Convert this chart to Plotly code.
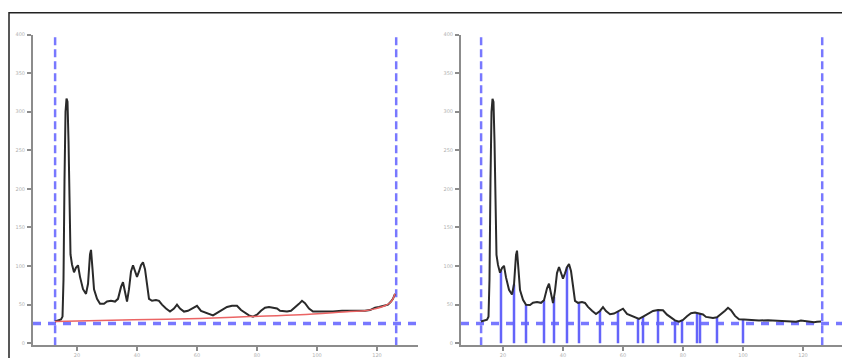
import numpy as np
import plotly.graph_objects as go
from plotly.subplots import make_subplots

# Raw signal (black trace)
signal_x = [12.67, 13.67, 14.67, 15.17, 15.5, 15.83, 16.17, 16.5, 16.83, 17.17, 17.5, 17.83,
            18.33, 19.0, 19.67, 20.33, 21.0, 22.0, 23.0, 23.67, 24.33, 24.67, 25.17, 25.67,
            26.67, 27.67, 29.0, 30.0, 31.33, 32.67, 33.67, 34.67, 35.33, 36.0, 36.67, 37.33,
            38.0, 38.67, 39.33, 40.0, 40.67, 41.33, 42.0, 42.67, 43.33, 44.0, 45.0, 46.33,
            47.33, 48.33, 49.67, 51.0, 52.33, 53.33, 54.33, 55.67, 57.0, 58.67, 60.0, 61.33,
            62.67, 64.0, 65.33, 67.0, 68.33, 70.0, 71.67, 73.33, 74.67, 76.0, 77.33, 78.67,
            80.0, 81.33, 82.67, 84.0, 85.33, 86.67, 87.67, 89.0, 90.0, 91.33, 92.67, 94.0,
            95.0, 96.0, 97.33, 98.67, 100.33, 102.67, 105.33, 108.33, 111.0, 113.67, 116.0,
            117.67, 119.33, 120.67, 122.33, 123.67, 124.67, 125.33, 126.0]
signal_y = [28.1, 29.4, 30.7, 34.5, 83, 211, 300, 317, 313, 262, 172.5, 115,
            102, 92, 98, 101, 86, 70, 64, 77, 115, 121, 96, 70,
            57.5, 51, 51, 54, 55, 54, 57.5, 73, 79, 64, 54, 70,
            93, 101, 93, 86, 93, 101, 105, 96, 77, 57.5, 55, 56,
            55, 50, 45, 41, 45, 50, 45, 41, 42, 46, 48.5, 42,
            40, 37, 36, 40, 43, 47, 48.5, 48.5, 43, 40, 36, 34.5,
            37, 42, 46, 47, 46, 45, 42, 41, 41, 42, 46, 51,
            55, 52, 45, 41, 41, 41, 41, 42, 42, 42, 42,
            43, 46, 47, 48.5, 50, 54, 57.5, 64]

# Estimated baseline (red trace)
baseline_x = [12.67, 27.67, 44.33, 61.0, 77.67, 94.33, 111.0, 116.0, 119.33, 122.67, 124.33, 125.33, 126.0]
baseline_y = [28.1, 29.4, 30.7, 32.0, 34.5, 37.0, 41.0, 42.0, 44.7, 48.5, 52.4, 57.5, 64.0]

# Region limits and detection threshold
region_start = 12.7
region_end = 126.4
threshold = 25.5

# Positions of detected peaks (blue stems)
peak_x = [19.33, 23.67, 27.67, 33.67, 37.0, 41.33, 45.33, 52.33, 58.33, 65.0, 66.67,
          71.67, 77.33, 79.67, 84.67, 85.67, 91.33, 100.0]

y_ticks = [0, 50, 100, 150, 200, 250, 300, 350, 400]
x_ticks = [20, 40, 60, 80, 100, 120]

sx = np.array(signal_x)
sy = np.array(signal_y)
base_on_signal = np.interp(sx, baseline_x, baseline_y)
corrected_y = sy - base_on_signal + baseline_y[0]
stem_top = np.interp(peak_x, sx, corrected_y)

BLUE = "rgb(120,120,255)"
STEM = "rgb(100,100,250)"
AXIS = "#8c8c8c"
LINE = "#2a2a2a"

fig = make_subplots(rows=1, cols=2)


def add_limits(col, xrange):
    for xv in (region_start, region_end):
        fig.add_trace(go.Scatter(x=[xv, xv], y=[-2.5, 400], mode="lines",
                                 line=dict(color=BLUE, width=2.5, dash="8px,4px"),
                                 showlegend=False, hoverinfo="skip"), row=1, col=col)
    fig.add_trace(go.Scatter(x=list(xrange), y=[threshold, threshold], mode="lines",
                             line=dict(color=BLUE, width=3.5, dash="8px,7px"),
                             showlegend=False, hoverinfo="skip"), row=1, col=col)


# Left panel: raw signal with baseline
left_range = (5.33, 133.67)
add_limits(1, left_range)
fig.add_trace(go.Scatter(x=signal_x, y=signal_y, mode="lines",
                         line=dict(color=LINE, width=2),
                         showlegend=False), row=1, col=1)
fig.add_trace(go.Scatter(x=baseline_x, y=baseline_y, mode="lines",
                         line=dict(color="rgb(235,100,100)", width=1.5, shape="spline"),
                         showlegend=False), row=1, col=1)

# Right panel: baseline-corrected signal with peak stems
right_range = (6.0, 133.0)
add_limits(2, right_range)
stem_x, stem_y = [], []
for px, top in zip(peak_x, stem_top):
    stem_x += [px, px, None]
    stem_y += [0, top, None]
fig.add_trace(go.Scatter(x=stem_x, y=stem_y, mode="lines",
                         line=dict(color=STEM, width=2.5),
                         showlegend=False), row=1, col=2)
fig.add_trace(go.Scatter(x=signal_x, y=corrected_y, mode="lines",
                         line=dict(color=LINE, width=2),
                         showlegend=False), row=1, col=2)

W, H = 842, 358
axis_common = dict(showgrid=False, zeroline=False, showline=True, linecolor=AXIS,
                   linewidth=2, ticks="outside", tickcolor=AXIS, ticklen=4,
                   tickwidth=1.5, tickfont=dict(size=5, color="#b0b0b0", family="DejaVu Sans"))

fig.update_xaxes(axis_common, tickvals=x_ticks, ticktext=[str(v) for v in x_ticks])
fig.update_yaxes(axis_common, tickvals=y_ticks, ticktext=[str(v) for v in y_ticks],
                 range=[-2.5, 400], domain=[11 / H, 326 / H], ticklabelstandoff=1)
fig.update_xaxes(range=list(left_range), domain=[33 / W, 418 / W], row=1, col=1)
fig.update_xaxes(range=list(right_range), domain=[461 / W, 1.0], row=1, col=2)

fig.update_layout(
    width=W, height=H,
    margin=dict(l=0, r=0, t=0, b=0),
    paper_bgcolor="white", plot_bgcolor="white",
    shapes=[dict(type="rect", xref="paper", yref="paper",
                 x0=9 / W, x1=1.05, y0=-0.05, y1=1 - 10 / H,
                 line=dict(color="#222", width=1.5), layer="below")],
)

fig.write_html("out.html")
